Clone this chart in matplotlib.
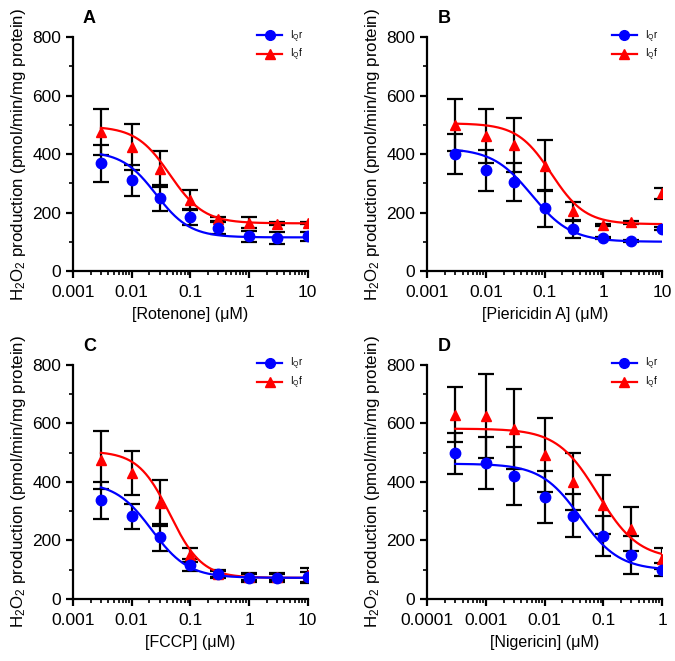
import numpy as np
import matplotlib.pyplot as plt
from matplotlib.ticker import LogLocator, MultipleLocator, FixedLocator, NullFormatter

plt.rcParams['font.family'] = ['Liberation Sans', 'DejaVu Sans']
plt.rcParams['mathtext.default'] = 'regular'

# concentrations (uM)
conc_abc = [0.003, 0.01, 0.03, 0.1, 0.3, 1, 3, 10]
conc_d = [0.0003, 0.001, 0.003, 0.01, 0.03, 0.1, 0.3, 1]

# panel A - rotenone
a_r = [368, 310, 250, 185, 148, 118, 112, 118]
a_r_err = [64, 54, 45, 28, 20, 18, 20, 17]
a_f = [475, 425, 348, 243, 178, 165, 162, 165]
a_f_err = [80, 78, 62, 33, 8, 18, 4, 4]
# panel B - piericidin A
b_r = [400, 345, 303, 215, 142, 112, 102, 145]
b_r_err = [70, 70, 65, 63, 30, 4, 4, 4]
b_f = [500, 462, 430, 360, 205, 158, 166, 265]
b_f_err = [88, 93, 93, 87, 30, 4, 4, 20]
# panel C - FCCP
c_r = [337, 283, 210, 115, 85, 72, 73, 75]
c_r_err = [63, 43, 45, 20, 15, 15, 15, 18]
c_f = [475, 430, 328, 150, 85, 75, 75, 80]
c_f_err = [100, 75, 78, 25, 10, 10, 10, 25]
# panel D - nigericin
d_r = [498, 465, 420, 348, 285, 215, 150, 100]
d_r_err = [70, 90, 100, 88, 75, 70, 65, 22]
d_f = [630, 625, 580, 492, 400, 322, 238, 138]
d_f_err = [95, 145, 137, 128, 97, 100, 75, 37]

# fitted dose-response parameters: top, bottom, IC50, hill
fit_a = [(410, 115, 0.026, 1.5), (495, 163, 0.045, 1.5)]
fit_b = [(420, 100, 0.06, 1.3), (505, 160, 0.13, 1.5)]
fit_c = [(400, 72, 0.022, 1.4), (505, 72, 0.045, 1.6)]
fit_d = [(462, 98, 0.04, 1.3), (582, 135, 0.08, 1.25)]

panels = [
    ('A', '[Rotenone] (μM)', conc_abc, a_r, a_r_err, a_f, a_f_err, fit_a, (0.001, 10)),
    ('B', '[Piericidin A] (μM)', conc_abc, b_r, b_r_err, b_f, b_f_err, fit_b, (0.001, 10)),
    ('C', '[FCCP] (μM)', conc_abc, c_r, c_r_err, c_f, c_f_err, fit_c, (0.001, 10)),
    ('D', '[Nigericin] (μM)', conc_d, d_r, d_r_err, d_f, d_f_err, fit_d, (0.0001, 1)),
]

def logistic(x, top, bottom, ic50, hill):
    return bottom + (top - bottom) / (1 + (x / ic50) ** hill)

fig = plt.figure(figsize=(6.75, 6.61), dpi=100)
positions = [(0.108, 0.590), (0.633, 0.590), (0.108, 0.094), (0.633, 0.094)]
w, h = 0.348, 0.354

for (letter, xlabel, x, yr, er, yf, ef, fits, xlim), (l, b) in zip(panels, positions):
    ax = fig.add_axes([l, b, w, h])
    xs = np.logspace(np.log10(x[0]), np.log10(x[-1]), 300)
    for (y, e, fit, col, mk, lab) in [(yf, ef, fits[1], 'red', '^', r'I$_Q$f'),
                                      (yr, er, fits[0], 'blue', 'o', r'I$_Q$r')]:
        ax.errorbar(x, y, yerr=e, fmt='none', ecolor='black', elinewidth=1.6,
                    capsize=6, capthick=1.6, zorder=2)
        ax.plot(xs, logistic(xs, *fit), color=col, lw=1.6, zorder=3)
        ax.plot(x, y, ls='none', marker=mk, color=col, ms=7.5, zorder=4)
        ax.plot([], [], color=col, marker=mk, ms=7, lw=1.6, label=lab)
    ax.set_xscale('log')
    ax.set_xlim(*xlim)
    ax.set_ylim(0, 800)
    ax.yaxis.set_major_locator(MultipleLocator(200))
    ax.yaxis.set_minor_locator(MultipleLocator(100))
    ax.xaxis.set_minor_locator(LogLocator(base=10, subs=np.arange(2, 10), numticks=20))
    ax.xaxis.set_minor_formatter(NullFormatter())
    ticks = [t for t in [0.0001, 0.001, 0.01, 0.1, 1, 10] if xlim[0] <= t <= xlim[1]]
    ax.xaxis.set_major_locator(FixedLocator(ticks))
    ax.set_xticklabels([('%g' % t) if t >= 0.001 else '0.0001' for t in ticks])
    for s in ['top', 'right']:
        ax.spines[s].set_visible(False)
    for s in ['left', 'bottom']:
        ax.spines[s].set_linewidth(1.6)
    ax.tick_params(which='major', length=5, width=1.6, labelsize=12.5)
    ax.tick_params(axis='x', which='major', pad=5)
    ax.tick_params(which='minor', length=3, width=1.2)
    ax.set_xlabel(xlabel, fontsize=11.5, labelpad=5)
    ax.set_ylabel('H$_2$O$_2$ production (pmol/min/mg protein)', fontsize=12.2, labelpad=3)
    handles, labels = ax.get_legend_handles_labels()
    ax.legend(handles[::-1], labels[::-1], loc='upper right', frameon=False, fontsize=7,
              handlelength=2.6, bbox_to_anchor=(1.02, 1.075), labelspacing=0.25)
    fig.text(l + 0.015, b + h + 0.021, letter, fontsize=13, fontweight='bold')

plt.savefig('out.png', dpi=100)
